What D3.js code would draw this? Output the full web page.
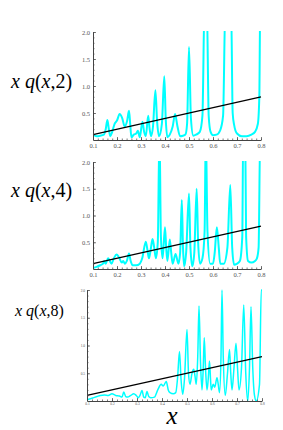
<!DOCTYPE html>
<html>
<head>
<meta charset="utf-8">
<script src="https://cdn.jsdelivr.net/npm/d3@7"></script>
<style>
    body { margin: 0; background: #fff; }
    .tick text { font-family: "Liberation Serif", serif; fill: #555; }
</style>
</head>
<body>
<div id="chart"></div>
<script>
// values, x q(x,n) for n = 2, 4, 8
var x_ticks = [0.1, 0.2, 0.3, 0.4, 0.5, 0.6, 0.7, 0.8];
var y_ticks = [0.5, 1.0, 1.5, 2.0];
var ref_line = [[0.1, 0.1], [0.8, 0.8]];

var q2_points = [[0.100,0.10],[0.115,0.07],[0.130,0.08],[0.145,0.10],[0.153,0.20],[0.160,0.37],[0.166,0.20],
    [0.172,0.07],[0.180,0.15],[0.190,0.30],[0.200,0.36],[0.211,0.48],[0.222,0.40],[0.232,0.25],[0.242,0.35],
    [0.250,0.54],[0.255,0.30],[0.260,0.05],[0.270,0.10],[0.280,0.12],[0.287,0.17],[0.295,0.05],[0.306,0.34],
    [0.313,0.15],[0.320,0.07],[0.330,0.45],[0.336,0.20],[0.342,0.07],[0.350,0.25],[0.360,0.92],[0.367,0.35],
    [0.375,0.07],[0.387,0.30],[0.397,1.18],[0.403,0.40],[0.410,0.05],[0.420,0.10],[0.432,0.25],[0.442,0.48],
    [0.452,0.25],[0.463,0.07],[0.475,0.08],[0.485,0.10],[0.492,0.30],[0.500,1.72],[0.508,0.40],[0.518,0.08],
    [0.530,0.10],[0.545,0.15],[0.556,0.45],[0.565,2.60],[0.574,2.60],[0.582,0.45],[0.590,0.15],[0.600,0.09],
    [0.615,0.10],[0.630,0.18],[0.642,0.45],[0.652,2.60],[0.675,2.60],[0.682,0.50],[0.688,0.28],[0.700,0.12],
    [0.720,0.07],[0.740,0.07],[0.760,0.10],[0.775,0.15],[0.787,0.30],[0.793,0.80],[0.797,2.60],[0.800,2.60]];

var q4_points = [[0.100,0.02],[0.115,0.04],[0.130,0.07],[0.142,0.10],[0.147,0.15],[0.153,0.10],[0.163,0.20],
    [0.170,0.15],[0.177,0.10],[0.187,0.20],[0.198,0.27],[0.208,0.22],[0.220,0.12],[0.226,0.15],[0.233,0.10],
    [0.241,0.15],[0.250,0.29],[0.257,0.15],[0.265,0.07],[0.280,0.07],[0.295,0.10],[0.305,0.20],[0.320,0.51],
    [0.327,0.35],[0.333,0.20],[0.340,0.35],[0.348,0.56],[0.355,0.40],[0.362,0.20],[0.370,0.50],[0.377,2.60],
    [0.383,0.60],[0.390,0.20],[0.400,0.78],[0.405,0.40],[0.410,0.15],[0.420,0.55],[0.426,0.30],[0.432,0.10],
    [0.444,0.28],[0.456,0.10],[0.463,0.30],[0.470,1.29],[0.475,0.40],[0.480,0.05],[0.488,0.30],[0.500,1.41],
    [0.506,0.40],[0.514,0.05],[0.522,0.30],[0.532,1.50],[0.538,0.50],[0.546,0.10],[0.556,0.20],[0.565,0.70],
    [0.570,2.60],[0.577,0.70],[0.588,0.10],[0.600,0.10],[0.607,0.30],[0.616,0.78],[0.624,0.40],[0.630,0.10],
    [0.645,0.10],[0.660,0.40],[0.672,1.57],[0.680,0.40],[0.688,0.08],[0.700,0.10],[0.712,0.15],[0.722,0.60],
    [0.726,2.60],[0.734,2.60],[0.738,0.60],[0.746,0.15],[0.760,0.12],[0.775,0.15],[0.783,0.20],[0.790,0.40],
    [0.797,2.60],[0.800,2.60]];

var q8_points = [[0.100,0.02],[0.120,0.05],[0.140,0.08],[0.153,0.10],[0.170,0.11],[0.185,0.10],[0.200,0.13],
    [0.215,0.10],[0.230,0.09],[0.240,0.07],[0.247,0.16],[0.255,0.08],[0.262,0.07],[0.275,0.10],[0.287,0.13],
    [0.297,0.10],[0.305,0.06],[0.312,0.10],[0.320,0.19],[0.327,0.07],[0.333,0.06],[0.340,0.17],[0.347,0.08],
    [0.355,0.06],[0.370,0.07],[0.383,0.20],[0.397,0.30],[0.405,0.27],[0.417,0.35],[0.425,0.20],[0.432,0.15],
    [0.445,0.13],[0.455,0.15],[0.462,0.40],[0.470,0.89],[0.476,0.40],[0.483,0.12],[0.490,0.40],[0.500,1.29],
    [0.506,0.50],[0.512,0.30],[0.520,0.50],[0.527,0.57],[0.532,0.45],[0.537,0.30],[0.543,0.80],[0.548,1.71],
    [0.554,0.70],[0.560,0.20],[0.565,0.60],[0.569,1.14],[0.574,0.60],[0.580,0.20],[0.585,0.40],[0.590,0.72],
    [0.594,0.40],[0.597,0.20],[0.605,0.30],[0.611,0.25],[0.620,0.42],[0.625,0.30],[0.630,0.15],[0.636,0.80],
    [0.640,2.00],[0.645,0.80],[0.653,0.10],[0.662,0.50],[0.670,0.93],[0.675,0.50],[0.680,0.20],[0.688,0.60],
    [0.696,1.04],[0.702,0.60],[0.708,0.20],[0.718,0.60],[0.727,1.73],[0.735,0.50],[0.743,0.00],[0.750,0.60],
    [0.756,1.70],[0.763,0.60],[0.770,0.10],[0.777,0.00],[0.790,0.30],[0.797,2.00],[0.800,2.00]];

var utils = (function () {
    return {
        create_svg: function (placement, width, height) {
            var svg = d3.select(placement).append("svg")
                .attr("width", width)
                .attr("height", height)
                .append("g");

            return svg;
        },

        // x q(x,n) in the traditional form style
        add_label: function (svg, n, x, y, size) {
            var t = svg.append("text")
                .attr("x", x)
                .attr("y", y)
                .style("font-family", "'Liberation Serif', serif")
                .style("font-size", size + "px");
            t.append("tspan").style("font-style", "italic").text("x q");
            t.append("tspan").text("(");
            t.append("tspan").style("font-style", "italic").text("x");
            t.append("tspan").text("," + n + ")");
        }
    }
})();

var panels = (function () {

    return {
        draw_panel: function (svg, id, points, box) {
            var x = d3.scaleLinear().domain([0.1, 0.8]).range([box.left, box.right]);
            var y = d3.scaleLinear().domain([0, 2]).range([box.bottom, box.top]);

            var g = svg.append("g");

            g.append("clipPath").attr("id", "clip" + id)
                .append("rect")
                .attr("x", box.left)
                .attr("y", box.top - 1)
                .attr("width", box.right - box.left + 1)
                .attr("height", box.bottom - box.top + 1);

            var line = d3.line()
                .x(function (d) { return x(d[0]); })
                .y(function (d) { return y(d[1]); })
                .curve(d3.curveMonotoneX);

            g.append("path")
                .datum(points)
                .attr("clip-path", "url(#clip" + id + ")")
                .attr("d", line)
                .style("fill", "none")
                .style("stroke", "#00ffff")
                .style("stroke-width", box.curve_width);

            g.append("path")
                .datum(ref_line)
                .attr("d", d3.line()
                    .x(function (d) { return x(d[0]); })
                    .y(function (d) { return y(d[1]); }))
                .style("fill", "none")
                .style("stroke", "#000")
                .style("stroke-width", 1.3);

            // minor ticks first
            g.append("g")
                .attr("transform", "translate(0," + box.bottom + ")")
                .call(d3.axisBottom(x).tickValues(d3.range(0.1, 0.801, 0.02)).tickSizeInner(-1.5).tickSizeOuter(0).tickFormat(""))
                .call(function (a) { a.select(".domain").remove(); });
            g.append("g")
                .attr("transform", "translate(" + box.left + ",0)")
                .call(d3.axisLeft(y).tickValues(d3.range(0.1, 2.01, 0.1)).tickSizeInner(-1.5).tickSizeOuter(0).tickFormat(""))
                .call(function (a) { a.select(".domain").remove(); });

            var xa = g.append("g")
                .attr("transform", "translate(0," + box.bottom + ")")
                .call(d3.axisBottom(x).tickValues(x_ticks).tickSizeInner(-3).tickSizeOuter(0)
                    .tickPadding(box.pad).tickFormat(d3.format(".1f")));
            var ya = g.append("g")
                .attr("transform", "translate(" + box.left + ",0)")
                .call(d3.axisLeft(y).tickValues(y_ticks).tickSizeInner(-3).tickSizeOuter(0)
                    .tickPadding(box.pad).tickFormat(d3.format(".1f")));

            [xa, ya].forEach(function (a) {
                a.selectAll(".tick text").style("font-size", box.tick_font + "px");
                a.select(".domain").style("stroke", "#444");
            });
            g.selectAll(".tick line").style("stroke", "#444").style("stroke-width", 0.7);

            utils.add_label(svg, id, box.label_x, box.label_y, box.label_size);
        }
    }
})();

var svg = utils.create_svg("#chart", 283, 430);

panels.draw_panel(svg, 2, q2_points, {left: 93, right: 261, top: 32, bottom: 140, curve_width: 2,
    pad: 3, tick_font: 6.5, label_x: 11, label_y: 88, label_size: 20});
panels.draw_panel(svg, 4, q4_points, {left: 93, right: 261, top: 162, bottom: 269, curve_width: 2,
    pad: 3, tick_font: 6.5, label_x: 11, label_y: 197, label_size: 20});
panels.draw_panel(svg, 8, q8_points, {left: 87, right: 262, top: 290, bottom: 401, curve_width: 1.5,
    pad: 2, tick_font: 3.5, label_x: 15, label_y: 316, label_size: 16});

svg.append("text")
    .attr("x", 172)
    .attr("y", 424)
    .attr("text-anchor", "middle")
    .style("font-family", "'Liberation Serif', serif")
    .style("font-style", "italic")
    .style("font-size", "25px")
    .text("x");
</script>
</body>
</html>
